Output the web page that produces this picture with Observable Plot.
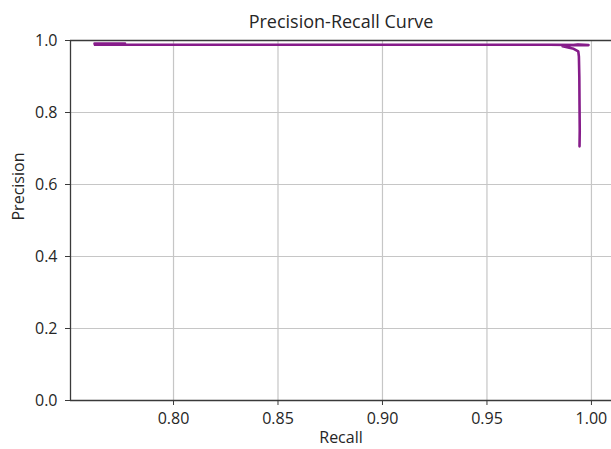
<!DOCTYPE html>
<html>
<head>
<meta charset="utf-8">
<script src="https://cdn.jsdelivr.net/npm/d3@7"></script>
<script src="https://cdn.jsdelivr.net/npm/@observablehq/plot@0.6"></script>
<style>
  html, body { margin: 0; padding: 0; background: #fff; }
</style>
</head>
<body>
<div id="chart"></div>
<script>
const title = "Precision-Recall Curve";
const xLabel = "Recall";
const yLabel = "Precision";
const xTicks = [0.80, 0.85, 0.90, 0.95, 1.00];
const yTicks = [0.0, 0.2, 0.4, 0.6, 0.8, 1.0];
const xDomain = [0.7507, 1.0096];
const yDomain = [0, 1];

// curve points (recall, precision), in drawing order
const recall    = [0.7768, 0.7622, 0.7624, 0.7800, 0.8500, 0.9000, 0.9500, 0.9800, 0.9986, 0.9935, 0.9862, 0.9915, 0.9937, 0.9940, 0.9942, 0.9943, 0.9944, 0.9943];
const precision = [0.9912, 0.9914, 0.9882, 0.9880, 0.9880, 0.9880, 0.9880, 0.9880, 0.9872, 0.9890, 0.9840, 0.9770, 0.9700, 0.9550, 0.9000, 0.8200, 0.7500, 0.7060];

const data = recall.map((r, i) => ({recall: r, precision: precision[i]}));

const textColor = "#262626";
const spine = "#3a3a3a";
const grid = "#c6c6c6";

const chart = Plot.plot({
  width: 611,
  height: 449,
  marginLeft: 70,
  marginRight: 0,
  marginTop: 40,
  marginBottom: 49,
  style: {fontFamily: "'Open Sans', sans-serif", fontSize: "16px", background: "#fff", color: textColor},
  x: {domain: xDomain},
  y: {domain: yDomain},
  marks: [
    Plot.gridX(xTicks, {stroke: grid, strokeOpacity: 1, strokeWidth: 1.2}),
    Plot.gridY(yTicks, {stroke: grid, strokeOpacity: 1, strokeWidth: 1.2}),
    Plot.line(data, {x: "recall", y: "precision", stroke: "#861c8a", strokeWidth: 2.6, strokeLinejoin: "round", strokeLinecap: "round"}),
    Plot.ruleX([xDomain[0]], {stroke: spine, strokeWidth: 1.3}),
    Plot.ruleY(yDomain, {stroke: spine, strokeWidth: 1.3}),
    Plot.axisX({ticks: xTicks, tickFormat: d3.format(".2f"), tickSize: 5, tickPadding: 7, fontSize: 16, stroke: spine, fill: textColor, label: null}),
    Plot.axisY({ticks: yTicks, tickFormat: d3.format(".1f"), tickSize: 5, tickPadding: 8, fontSize: 16, stroke: spine, fill: textColor, label: null}),
    Plot.text([title], {frameAnchor: "top", dy: -18, lineAnchor: "middle", fontSize: 18, fill: textColor}),
    Plot.text([xLabel], {frameAnchor: "bottom", dy: 37, lineAnchor: "middle", fontSize: 16, fill: textColor}),
    Plot.text([yLabel], {frameAnchor: "left", dx: -52, lineAnchor: "middle", rotate: -90, fontSize: 16, fill: textColor})
  ]
});
document.getElementById("chart").appendChild(chart);
</script>
</body>
</html>
